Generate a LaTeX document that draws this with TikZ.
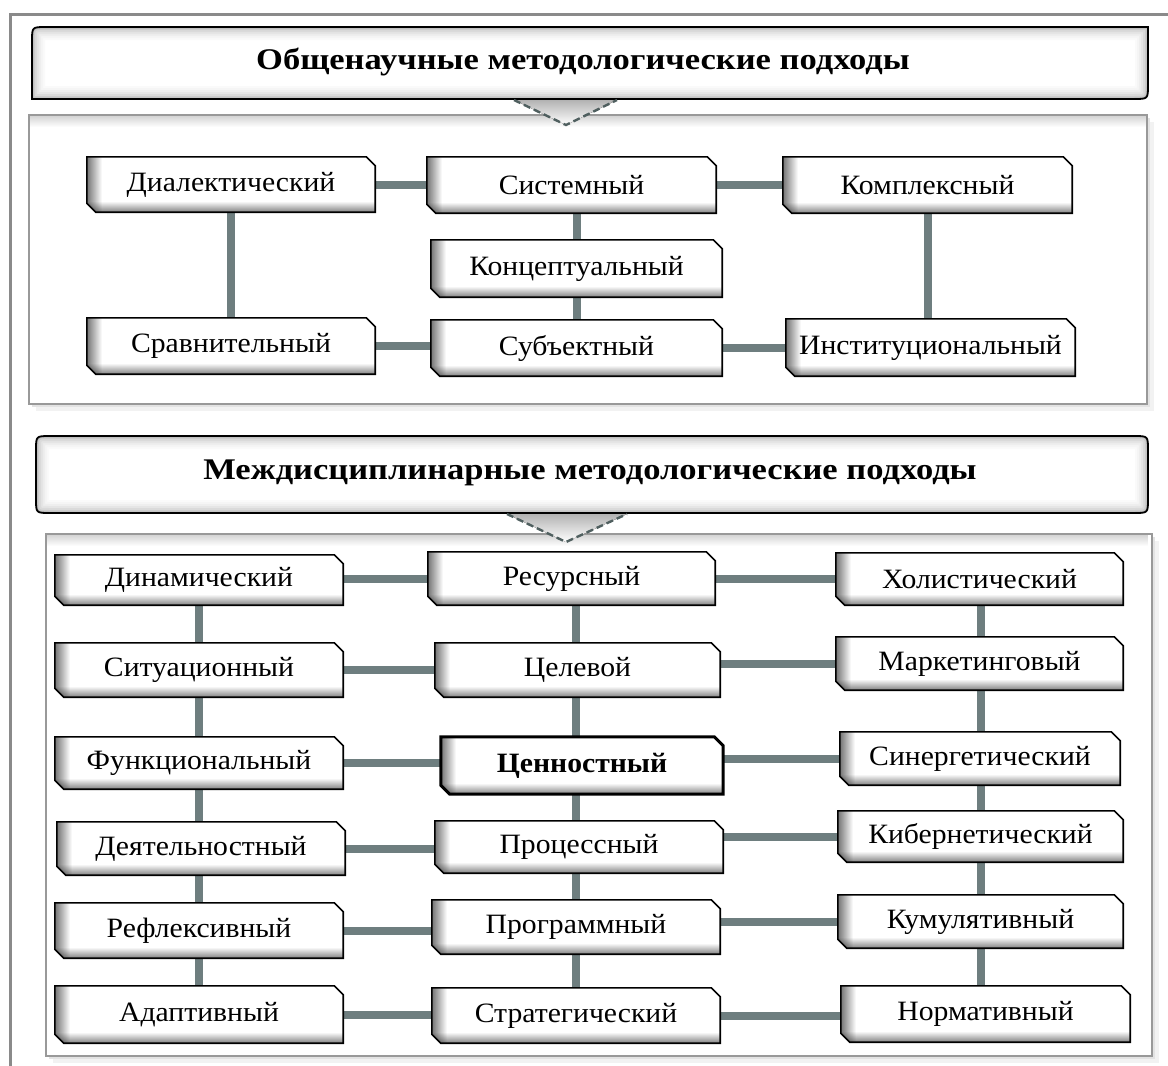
\documentclass[tikz,border=0pt]{standalone}
\usepackage{fontspec}
\setmainfont{Liberation Serif}
\newfontfamily\lblfont{Liberation Serif}[FakeStretch=1.06]
\newfontfamily\hdrfont{Liberation Serif}[FakeStretch=1.15]
\usetikzlibrary{fadings}
\definecolor{conn}{HTML}{6E7E7F}
\definecolor{dashc}{HTML}{4F5F5F}
\definecolor{framec}{HTML}{8A8A8A}
\pgfdeclarelayer{bg}
\pgfdeclarelayer{lines}
\pgfdeclarelayer{boxes}
\pgfsetlayers{bg,lines,boxes,main}
\tikzset{
  lbl/.style={draw=none,inner sep=0pt,font=\lblfont\fontsize{28}{32}\selectfont},
  hdr/.style={inner sep=0pt,font=\hdrfont\bfseries\fontsize{30}{34}\selectfont},
  link/.style={draw=conn,line width=8pt},
  tri/.style={draw=dashc,line width=2.4pt,dash pattern=on 7pt off 4pt},
}
\newcommand\chp[1]{(#1.north west) -- ([xshift=-9pt]#1.north east) -- ([yshift=-9pt]#1.north east) -- (#1.south east) -- ([xshift=9pt]#1.south west) -- ([yshift=9pt]#1.south west) -- cycle}
\newcommand\mkbox[7][line width=1.6pt]{%
  \node[lbl,minimum width=#5pt,minimum height=#6pt] (#2) at (#3,#4) {#7};
  \begin{pgfonlayer}{boxes}
    \fill[white] \chp{#2};
    \begin{scope}
      \clip \chp{#2};
      \fill[black,opacity=.55,path fading=east] (#2.south west) rectangle ([xshift=15pt]#2.north west);
      \fill[black,opacity=.5,path fading=north] (#2.south west) rectangle ([yshift=11pt]#2.south east);
    \end{scope}
    \draw[#1] \chp{#2};
  \end{pgfonlayer}
}
\newcommand\panel[4]{%
  \fill[gray!10] (#1+7,#2+7) rectangle (#3+7,#4+7);
  \fill[gray!22] (#1+3,#2+3) rectangle (#3+3,#4+3);
  \fill[white] (#1,#2) rectangle (#3,#4);
  \fill[gray!35,path fading=south] (#1,#2) rectangle (#3,#2+12);
  \draw[gray!80,line width=2pt] (#1,#2) rectangle (#3,#4);
}
\newcommand\glow[1]{%
  \begin{scope}
    \clip #1;
    \fill[white] #1;
    \draw[gray!4,line width=26pt] #1;
    \draw[gray!8,line width=22pt] #1;
    \draw[gray!13,line width=18pt] #1;
    \draw[gray!20,line width=14pt] #1;
    \draw[gray!29,line width=10pt] #1;
    \draw[gray!40,line width=6pt] #1;
    \draw[gray!55,line width=3pt] #1;
  \end{scope}
  \draw[black,line width=1.8pt] #1;
}
\begin{document}
\begin{tikzpicture}[x=1pt,y=-1pt]
\useasboundingbox (0,0) rectangle (1168,1066);
\begin{pgfonlayer}{bg}
  \fill[white] (0,0) rectangle (1168,1066);
  \draw[framec,line width=3pt] (1168,14) -- (10,14) -- (10,1066);
  % panel 1
  \panel{29}{115}{1147}{404}
  % panel 2
  \panel{46}{534}{1152}{1056}
  % header 1
  \glow{(32,99) -- (32,41) .. controls (32,27) .. (46,27) -- (1148,27) -- (1148,85) .. controls (1148,99) .. (1134,99) -- cycle}
  % header 2
  \glow{(36,450) .. controls (36,436) .. (50,436) -- (1134,436) .. controls (1148,436) .. (1148,450) -- (1148,499) .. controls (1148,513) .. (1134,513) -- (50,513) .. controls (36,513) .. (36,499) -- cycle}
  % triangles
  \fill[top color=gray!60,bottom color=white] (514,100) -- (566,125) -- (617,100) -- cycle;
  \draw[tri] (514,100) -- (566,125) -- (617,100);
  \fill[top color=gray!60,bottom color=white] (507,514) -- (566,542) -- (627,514) -- cycle;
  \draw[tri] (507,514) -- (566,542) -- (627,514);
\end{pgfonlayer}

\node[hdr] (h1) at (583,62) {Общенаучные методологические подходы};
\node[hdr] (h2) at (590,473) {Междисциплинарные методологические подходы};

% panel 1 boxes
\mkbox{dia}{231}{184.5}{288}{55}{Диалектический}
\mkbox{sis}{571.5}{185}{289}{56}{Системный}
\mkbox{kom}{927.5}{185}{289}{56}{Комплексный}
\mkbox{kon}{576.5}{268.5}{291}{57}{Концептуальный}
\mkbox{sra}{231}{346}{288}{56}{Сравнительный}
\mkbox{sub}{576.5}{348}{291}{56}{Субъектный}
\mkbox{ins}{930.5}{347.5}{289}{57}{Институциональный}

% panel 2 boxes
\mkbox{dyn}{199}{580}{288}{50}{Динамический}
\mkbox{sit}{199}{670}{288}{54}{Ситуационный}
\mkbox{fun}{199}{763}{288}{52}{Функциональный}
\mkbox{dey}{201}{848.5}{288}{53}{Деятельностный}
\mkbox{ref}{199}{930.5}{288}{55}{Рефлексивный}
\mkbox{ada}{199}{1014.5}{288}{57}{Адаптивный}

\mkbox{res}{571.5}{578.5}{287}{53}{Ресурсный}
\mkbox{cel}{577.5}{670}{285}{54}{Целевой}
\mkbox[line width=3pt]{cen}{582}{765.5}{282}{57}{\textbf{Ценностный}}
\mkbox{pro}{579}{847}{288}{52}{Процессный}
\mkbox{prg}{576}{927}{288}{54}{Программный}
\mkbox{str}{576}{1015.5}{288}{55}{Стратегический}

\mkbox{hol}{979.5}{579}{287}{52}{Холистический}
\mkbox{mar}{979.5}{663.5}{287}{53}{Маркетинговый}
\mkbox{sin}{980}{758.5}{280}{53}{Синергетический}
\mkbox{kib}{980.5}{836.5}{285}{51}{Кибернетический}
\mkbox{kum}{980.5}{921.5}{285}{53}{Кумулятивный}
\mkbox{nor}{985.5}{1014}{289}{56}{Нормативный}

\begin{pgfonlayer}{lines}
  \draw[link] (dia) -- (dia -| sis);
  \draw[link] (sis) -- (sis -| kom);
  \draw[link] (dia) -- (sra);
  \draw[link] (kon) -- (kon |- sis);
  \draw[link] (kon) -- (sub);
  \draw[link] (kom) -- (kom |- ins);
  \draw[link] (sra) -- (sra -| sub);
  \draw[link] (sub) -- (sub -| ins);

  \draw[link] (dyn) -- (dyn |- ada);
  \draw[link] (prg) -- (prg |- res);
  \draw[link] (prg) -- (prg |- str);
  \draw[link] (kum) -- (kum |- hol);
  \draw[link] (kum) -- (kum |- nor);

  \draw[link] (res) -- (res -| dyn);
  \draw[link] (res) -- (res -| hol);
  \draw[link] (sit) -- (sit -| cel);
  \draw[link] (mar) -- (mar -| cel);
  \draw[link] (fun) -- (fun -| cen);
  \draw[link] (sin) -- (sin -| cen);
  \draw[link] (dey) -- (dey -| pro);
  \draw[link] (kib) -- (kib -| pro);
  \draw[link] (ref) -- (ref -| prg);
  \draw[link] (kum) -- (kum -| prg);
  \draw[link] (ada) -- (ada -| str);
  \draw[link] (str) -- (str -| nor);
\end{pgfonlayer}
\end{tikzpicture}
\end{document}
